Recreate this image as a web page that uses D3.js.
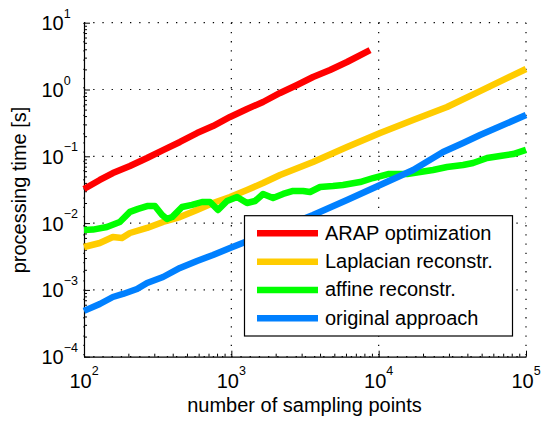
<!DOCTYPE html>
<html>
<head>
<meta charset="utf-8">
<script src="https://cdn.jsdelivr.net/npm/d3@7"></script>
<style>
  body { margin: 0; background: #fff; }
  svg { display: block; font-family: "Liberation Sans", Arial, sans-serif; }
</style>
</head>
<body>
<svg id="chart"></svg>
<script>
// values (log-log)
const arapN = [100, 128, 157, 205, 268, 344, 448, 585, 751, 980, 1278, 1642, 2142, 2793, 3586, 4678, 6100, 8740];
const arapT = [0.0324, 0.0442, 0.0562, 0.0716, 0.0944, 0.124, 0.164, 0.223, 0.284, 0.388, 0.511, 0.650, 0.887, 1.17, 1.54, 1.96, 2.58, 3.90];

const lapN = [100, 128, 157, 181, 205, 268, 344, 448, 585, 751, 980, 1278, 1642, 2142, 3586, 6100, 10230, 17140, 29110, 48770, 100000];
const lapT = [0.00439, 0.00504, 0.00619, 0.00598, 0.00711, 0.00845, 0.0104, 0.0123, 0.0157, 0.0200, 0.0246, 0.0313, 0.0398, 0.0525, 0.0822, 0.138, 0.223, 0.349, 0.547, 0.946, 2.03];

const affN = [100, 115, 143, 175, 205, 233, 268, 303, 339, 366, 396, 463, 541, 632, 717, 812, 935, 1094, 1278, 1449, 1642, 1920, 2245, 2625, 3069, 3423, 4002, 4899, 5728, 7477, 9162, 11580, 15600, 19100, 23390, 29110, 37410, 43750, 54450, 66700, 81700, 100000];
const affT = [0.0079, 0.0080, 0.00875, 0.0104, 0.0147, 0.0163, 0.0180, 0.0180, 0.0132, 0.0115, 0.0123, 0.0174, 0.0187, 0.0207, 0.0207, 0.0157, 0.0214, 0.0246, 0.0200, 0.0214, 0.0273, 0.0238, 0.0273, 0.0303, 0.0303, 0.0292, 0.0347, 0.0359, 0.0372, 0.0412, 0.0473, 0.0543, 0.0543, 0.0582, 0.0624, 0.0692, 0.0741, 0.0794, 0.0944, 0.101, 0.108, 0.125];

const origN = [100, 128, 157, 184, 229, 268, 344, 448, 585, 751, 980, 1642, 3586, 6100, 10230, 17140, 27350, 37410, 48770, 100000];
const origT = [0.000485, 0.000615, 0.000783, 0.000869, 0.00103, 0.00127, 0.00156, 0.00213, 0.00271, 0.00333, 0.00424, 0.00664, 0.0132, 0.0222, 0.0372, 0.0624, 0.116, 0.158, 0.208, 0.415];

const seriesLabels = ['ARAP optimization', 'Laplacian reconstr.', 'affine reconstr.', 'original approach'];
const xExponents = [2, 3, 4, 5];
const yExponents = [-4, -3, -2, -1, 0, 1];

const W = 541, H = 421;
const plotL = 84, plotR = 526, plotT = 22.7, plotB = 356.7;
const fs = '20px', fsExp = '12.5px';

const svg = d3.select('#chart').attr('width', W).attr('height', H);

const x = d3.scaleLog().domain([1e2, 1e5]).range([plotL, plotR]);
const y = d3.scaleLog().domain([1e-4, 1e1]).range([plotB, plotT]);

// dotted grid at decades
const grid = svg.append('g');
xExponents.forEach(e => {
  grid.append('line')
  .attr('x1', x(Math.pow(10, e))).attr('x2', x(Math.pow(10, e)))
  .attr('y1', plotT).attr('y2', plotB)
  .attr('stroke', '#000').attr('stroke-width', 1.2)
  .attr('stroke-dasharray', '1.3,7.9');
});
yExponents.forEach(e => {
  grid.append('line')
  .attr('x1', plotL).attr('x2', plotR)
  .attr('y1', y(Math.pow(10, e))).attr('y2', y(Math.pow(10, e)))
  .attr('stroke', '#000').attr('stroke-width', 1.2)
  .attr('stroke-dasharray', '1.3,7.9');
});

// axes, ticks pointing inward
const isMajor = d => Math.abs(Math.log10(d) - Math.round(Math.log10(d))) < 1e-6;

const xAxis = svg.append('g')
.attr('transform', `translate(0, ${plotB})`)
.call(d3.axisBottom(x).tickValues(x.ticks()).tickSizeInner(-3).tickSizeOuter(0).tickFormat(''));
xAxis.selectAll('.tick line').attr('y2', d => isMajor(d) ? -6 : -3);

const yAxis = svg.append('g')
.attr('transform', `translate(${plotL}, 0)`)
.call(d3.axisLeft(y).tickValues(y.ticks()).tickSizeInner(-3).tickSizeOuter(0).tickFormat(''));
yAxis.selectAll('.tick line').attr('x2', d => isMajor(d) ? 6 : 3);

[xAxis, yAxis].forEach(a => {
  a.select('.domain').attr('stroke', '#000').attr('stroke-width', 1.2);
  a.selectAll('.tick line').attr('stroke', '#000');
});

// tick labels as 10^n
xExponents.forEach(e => {
  const t = svg.append('text')
  .attr('x', x(Math.pow(10, e)))
  .attr('y', 388)
  .attr('text-anchor', 'middle')
  .style('font-size', fs)
  .style('fill', '#000');
  t.append('tspan').text('10');
  t.append('tspan').attr('dy', -13).style('font-size', fsExp).text(String(e));
});

yExponents.forEach(e => {
  const t = svg.append('text')
  .attr('x', 41.5)
  .attr('y', y(Math.pow(10, e)) + 7.5)
  .attr('text-anchor', 'start')
  .style('font-size', fs)
  .style('fill', '#000');
  t.append('tspan').text('10');
  t.append('tspan').attr('dy', -12.5).style('font-size', fsExp)
  .text(e < 0 ? '\u2212' + Math.abs(e) : String(e));
});

// axis titles
svg.append('text')
.attr('x', 304.5)
.attr('y', 412)
.attr('text-anchor', 'middle')
.style('font-size', fs)
.text('number of sampling points');

svg.append('text')
.attr('transform', 'translate(26, 190) rotate(-90)')
.attr('text-anchor', 'middle')
.style('font-size', fs)
.text('processing time [s]');

// series
const series = [
  {label: seriesLabels[0], n: arapN, t: arapT, color: '#ff0000'},
  {label: seriesLabels[1], n: lapN, t: lapT, color: '#ffcc00'},
  {label: seriesLabels[2], n: affN, t: affT, color: '#00ff00'},
  {label: seriesLabels[3], n: origN, t: origT, color: '#0080ff'}
];

const line = d3.line()
.x(d => x(d[0]))
.y(d => y(d[1]));

series.forEach(s => {
  svg.append('path')
  .datum(s.n.map((v, i) => [v, s.t[i]]))
  .attr('fill', 'none')
  .attr('stroke', s.color)
  .attr('stroke-width', 6.5)
  .attr('stroke-linejoin', 'round')
  .attr('d', line);
});

// legend
const lg = svg.append('g');
lg.append('rect')
.attr('x', 244.5).attr('y', 215.7)
.attr('width', 268).attr('height', 120.3)
.attr('fill', '#fff')
.attr('stroke', '#000')
.attr('stroke-width', 1.2);

series.forEach((s, i) => {
  const ly = 233.3 + i * 28.33;
  lg.append('line')
  .attr('x1', 257).attr('x2', 318)
  .attr('y1', ly).attr('y2', ly)
  .attr('stroke', s.color).attr('stroke-width', 6.5);
  lg.append('text')
  .attr('x', 325).attr('y', ly + 6.5)
  .style('font-size', fs)
  .text(s.label);
});
</script>
</body>
</html>
